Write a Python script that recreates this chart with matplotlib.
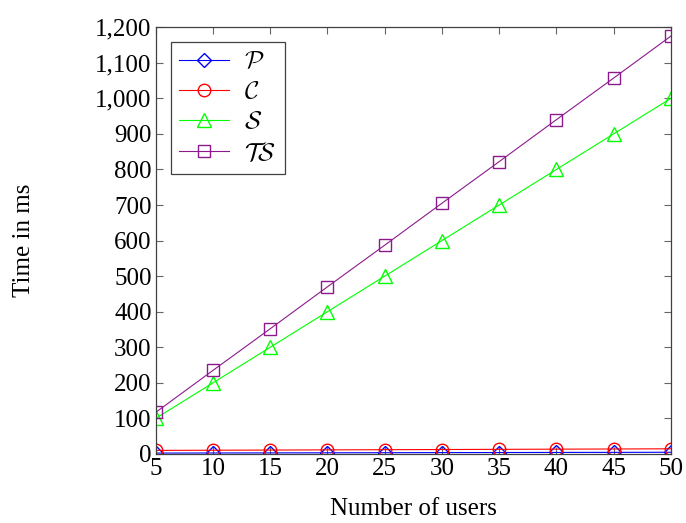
import matplotlib
matplotlib.use("Agg")
import matplotlib.pyplot as plt
from matplotlib.ticker import FuncFormatter

users = [5, 10, 15, 20, 25, 30, 35, 40, 45, 50]
P = [2.5, 2.8, 3.0, 3.3, 3.5, 3.8, 4.0, 4.3, 4.5, 4.8]
C = [10, 10.5, 11, 11.5, 12, 12.5, 13, 13.5, 14, 14.5]
S = [100, 200, 300, 400, 500, 600, 700, 800, 900, 1000]
TS = [117, 235, 352, 470, 587, 705, 822, 940, 1057, 1175]
series_labels = [r"$\mathcal{P}$", r"$\mathcal{C}$", r"$\mathcal{S}$", r"$\mathcal{TS}$"]

plt.rcParams['font.family'] = ['Liberation Serif', 'DejaVu Serif']
plt.rcParams['mathtext.fontset'] = 'cm'

fig = plt.figure(figsize=(6.86, 5.23), dpi=100)
ax = fig.add_axes([0.227, 0.132, 0.751, 0.816])

ax.plot(users, P, color=(0, 0, 1), marker='D', markersize=7, mfc='none', lw=0.8, label=series_labels[0])
ax.plot(users, C, color=(1, 0, 0), marker='o', markersize=9, mfc='none', lw=0.8, label=series_labels[1])
ax.plot(users, S, color=(0, 1, 0), marker='^', markersize=10, mfc='none', lw=0.8, label=series_labels[2])
ax.plot(users, TS, color=(0.55, 0.1, 0.55), marker='s', markersize=8, mfc='none', lw=0.8, label=series_labels[3])

ax.set_xlim(5, 50)
ax.set_ylim(0, 1200)
ax.set_xticks(users)
ax.set_yticks(range(0, 1201, 100))
ax.yaxis.set_major_formatter(FuncFormatter(lambda v, p: f"{int(v):,}"))
ax.tick_params(direction='in', top=True, right=True, labelsize=18, length=5, color='0.4', pad=3)
for s in ax.spines.values():
    s.set_linewidth(0.9)
    s.set_color('0.25')
ax.set_xlabel("Number of users", fontsize=18, labelpad=13)
ax.set_ylabel("Time in ms", fontsize=18)
ax.yaxis.set_label_coords(-0.235, 0.5)

leg = ax.legend(loc='upper left', fontsize=18, frameon=True, fancybox=False,
                edgecolor='0.25', framealpha=1, borderaxespad=0.6, handlelength=2.0,
                labelspacing=0.3, borderpad=0.35, handletextpad=0.6)
leg.get_frame().set_linewidth(0.9)

fig.savefig("out.png", dpi=100)
